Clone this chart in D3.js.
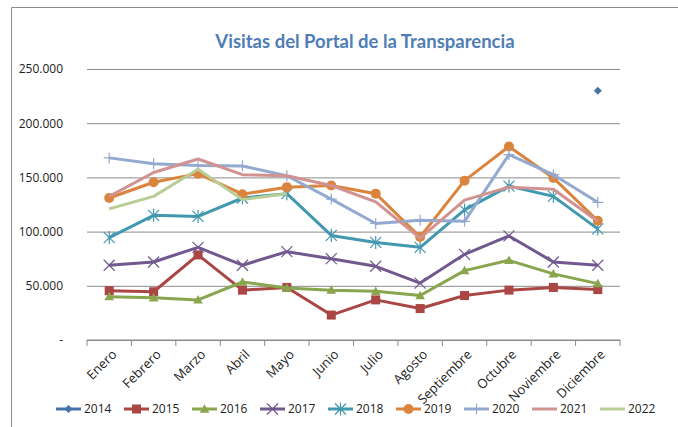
<!DOCTYPE html>
<html>
<head>
<meta charset="utf-8">
<script src="https://cdn.jsdelivr.net/npm/d3@7"></script>
<style>
  body { margin: 0; background: #fff; }
  svg { display: block; }
  text { font-family: "Open Sans", sans-serif; fill: #222; }
</style>
</head>
<body>
<svg width="678" height="427"></svg>
<script>
const months = ["Enero", "Febrero", "Marzo", "Abril", "Mayo", "Junio", "Julio",
                "Agosto", "Septiembre", "Octubre", "Noviembre", "Diciembre"];
const years = ["2014", "2015", "2016", "2017", "2018", "2019", "2020", "2021", "2022"];

const v2014 = [null, null, null, null, null, null, null, null, null, null, null, 230000];
const v2015 = [45500, 44500, 78500, 46000, 48500, 23000, 37000, 29000, 41000, 46000, 48500, 46500];
const v2016 = [40000, 39000, 37000, 53500, 48000, 46000, 45000, 41000, 64000, 73500, 61000, 52000];
const v2017 = [69000, 72000, 85500, 69000, 81500, 75000, 68000, 52500, 79000, 96000, 72000, 69000];
const v2018 = [94500, 115000, 114000, 131000, 135000, 96500, 90000, 85500, 120000, 142000, 132500, 102500];
const v2019 = [131000, 145500, 153500, 134500, 141000, 142500, 135000, 95000, 147000, 178500, 149500, 110000];
const v2020 = [168000, 162500, 161000, 160500, 151500, 130000, 107500, 110500, 109500, 171000, 152500, 127000];
const v2021 = [132500, 154500, 167000, 152500, 151500, 142500, 127500, 94000, 129000, 141000, 139000, 109500];
const v2022 = [121000, 132500, 157500, 129500, 135000, null, null, null, null, null, null, null];

const yTicks = [0, 50000, 100000, 150000, 200000, 250000];

const seriesValues = [v2014, v2015, v2016, v2017, v2018, v2019, v2020, v2021, v2022];
const colors = ["#4572A7", "#AA4643", "#89A54E", "#71588F", "#4198AF", "#DB843D", "#93A9CF", "#D19392", "#B9CD96"];
const markers = ["diamond", "square", "triangle", "x", "asterisk", "circle", "plus", null, null];
const markerSize = { diamond: 4, square: 4.5, triangle: 4.6, circle: 5, x: 5.5, asterisk: 5.5, plus: 5.5 };

const svg = d3.select("svg");

// frame (only top and left edges show in the picture)
svg.append("path")
   .attr("d", "M11.5,427 V7.5 H678")
   .attr("fill", "none")
   .attr("stroke", "#8c8c8c");

const margin = { left: 87, right: 58, top: 69, bottom: 87 };
const width = 678 - margin.left - margin.right;
const height = 427 - margin.top - margin.bottom;

const g = svg.append("g").attr("transform", `translate(${margin.left},${margin.top})`);

const x = d3.scaleBand().domain(months).range([0, width]);
const y = d3.scaleLinear().domain([0, 250000]).range([height, 0]);

// title
svg.append("text")
   .attr("x", 365)
   .attr("y", 48)
   .attr("text-anchor", "middle")
   .style("font-family", "Lato, sans-serif")
   .style("font-weight", "bold")
   .style("font-size", "18.5px")
   .style("fill", "#4F7DB5")
   .text("Visitas del Portal de la Transparencia");

// gridlines + y labels
const fmt = d => d === 0 ? "-" : d3.format(",")(d).replace(/,/g, ".");
const yAxis = g.append("g")
   .call(d3.axisLeft(y).tickValues(yTicks).tickSize(-width).tickPadding(24).tickFormat(fmt));
yAxis.select(".domain").remove();
yAxis.selectAll(".tick line").attr("stroke", "#8a8a8a");
yAxis.selectAll(".tick text").style("font-size", "12px").style("fill", "#222");

// x axis, ticks sit between the categories
const xAxisG = g.append("g").attr("transform", `translate(0,${height})`);
xAxisG.append("line").attr("x1", 0).attr("x2", width).attr("stroke", "#8a8a8a");
xAxisG.selectAll(".xt")
   .data(d3.range(months.length + 1))
   .join("line")
   .attr("class", "xt")
   .attr("x1", i => i * x.step()).attr("x2", i => i * x.step())
   .attr("y1", 0).attr("y2", 6)
   .attr("stroke", "#8a8a8a");
xAxisG.selectAll(".xl")
   .data(months)
   .join("text")
   .attr("class", "xl")
   .attr("text-anchor", "end")
   .attr("transform", d => `translate(${x(d) + x.bandwidth() / 2 + 5},${12}) rotate(-45)`)
   .attr("dy", "0.35em")
   .style("font-size", "13px")
   .text(d => d);

const cx = m => x(m) + x.bandwidth() / 2;

function drawMarker(sel, type, color) {
  const s = markerSize[type];
  if (type === "diamond") {
    sel.append("path").attr("d", `M0,${-s}L${s},0L0,${s}L${-s},0Z`).attr("fill", color);
  } else if (type === "square") {
    sel.append("rect").attr("x", -s).attr("y", -s).attr("width", 2 * s).attr("height", 2 * s).attr("fill", color);
  } else if (type === "triangle") {
    sel.append("path").attr("d", `M0,${-s * 1.05}L${s * 1.05},${s * 0.8}L${-s * 1.05},${s * 0.8}Z`).attr("fill", color);
  } else if (type === "circle") {
    sel.append("circle").attr("r", s).attr("fill", color);
  } else if (type === "x") {
    sel.append("path").attr("d", `M${-s},${-s}L${s},${s}M${-s},${s}L${s},${-s}`).attr("stroke", color).attr("stroke-width", 1.2);
  } else if (type === "asterisk") {
    sel.append("path").attr("d", `M${-s},${-s}L${s},${s}M${-s},${s}L${s},${-s}M0,${-s - 1}V${s + 1}`).attr("stroke", color).attr("stroke-width", 1.2);
  } else if (type === "plus") {
    sel.append("path").attr("d", `M${-s},0H${s}M0,${-s}V${s}`).attr("stroke", color).attr("stroke-width", 1.2);
  }
}

const line = d3.line()
   .defined(d => d.v != null)
   .x(d => cx(d.m))
   .y(d => y(d.v));

seriesValues.forEach((vals, i) => {
  const pts = months.map((m, j) => ({ m, v: vals[j] }));
  const sg = g.append("g");
  sg.append("path")
    .datum(pts)
    .attr("d", line)
    .attr("fill", "none")
    .attr("stroke", colors[i])
    .attr("stroke-width", 3)
    .attr("stroke-linejoin", "round");
  if (markers[i]) {
    sg.selectAll(".mk")
      .data(pts.filter(d => d.v != null))
      .join("g")
      .attr("transform", d => `translate(${cx(d.m)},${y(d.v)})`)
      .each(function () { drawMarker(d3.select(this), markers[i], colors[i]); });
  }
});

// legend
const legend = svg.append("g").attr("transform", "translate(56,409)");
years.forEach((yr, i) => {
  const lg = legend.append("g").attr("transform", `translate(${i * 68},0)`);
  lg.append("line").attr("x1", 0).attr("x2", 25).attr("stroke", colors[i]).attr("stroke-width", 3);
  if (markers[i]) {
    drawMarker(lg.append("g").attr("transform", "translate(12.5,0)"), markers[i], colors[i]);
  }
  lg.append("text").attr("x", 28).attr("dy", "0.35em").style("font-size", "12px").text(yr);
});
</script>
</body>
</html>
